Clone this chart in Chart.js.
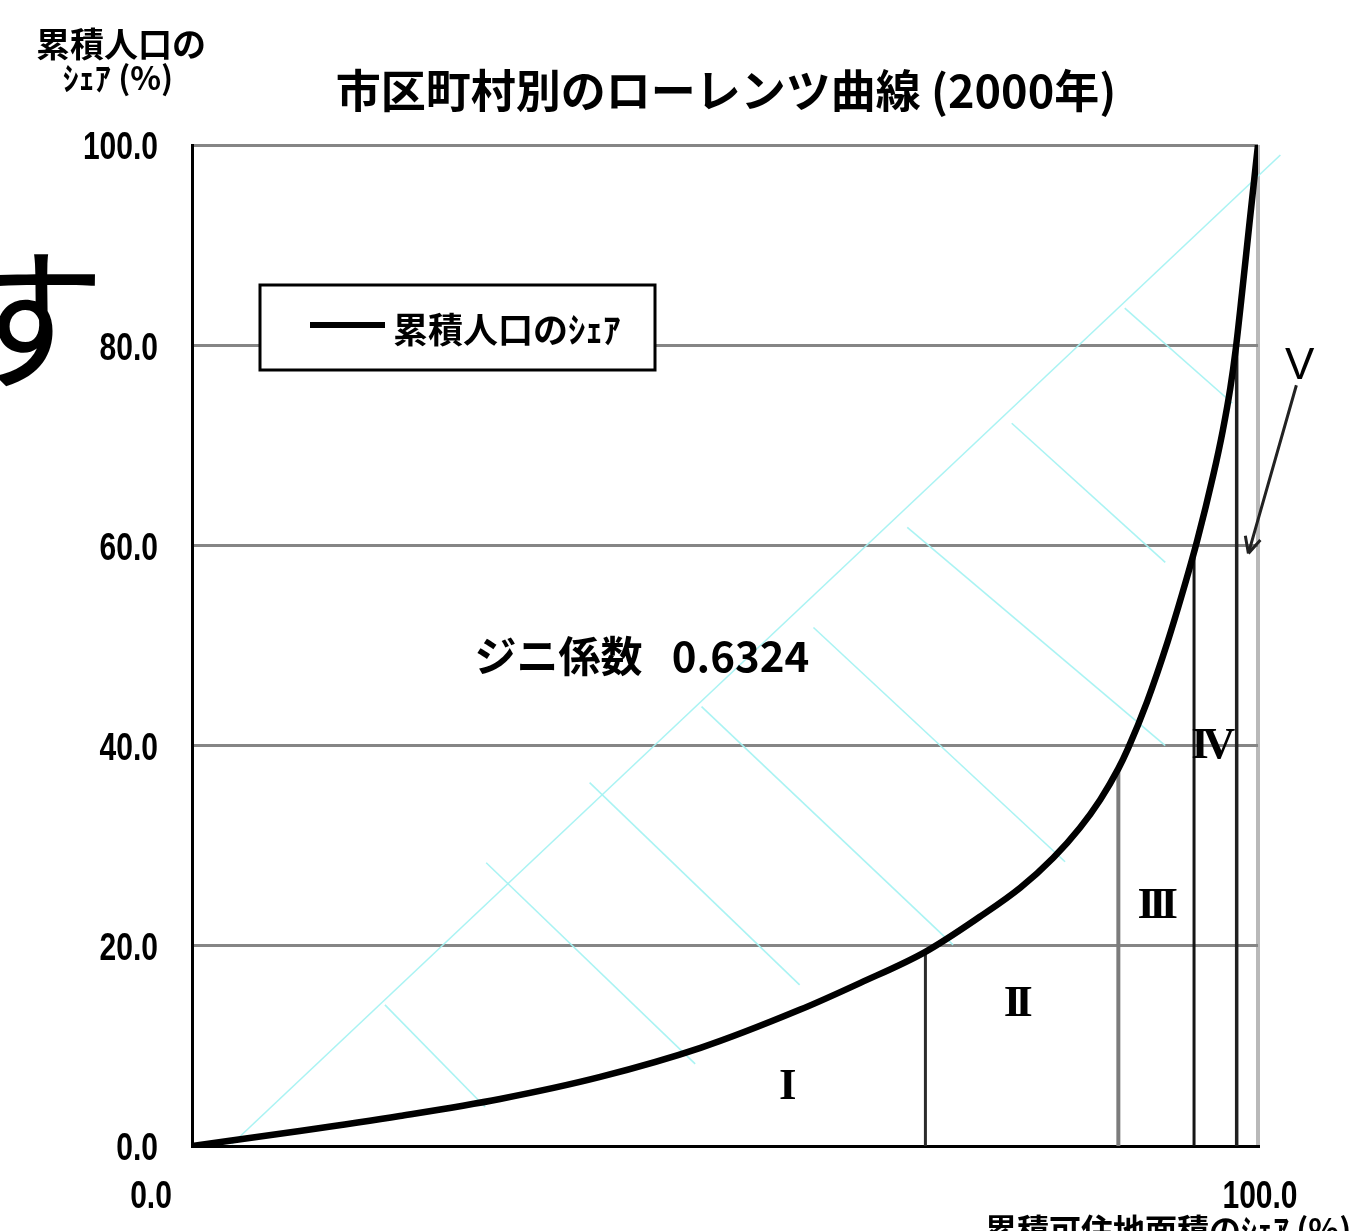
<!DOCTYPE html>
<html>
<head>
<meta charset="utf-8">
<script src="https://cdn.jsdelivr.net/npm/chart.js@4.4.1/dist/chart.umd.min.js"></script>
<style>
  html, body { margin: 0; padding: 0; background: #fff; overflow: hidden; }
  #wrap { position: relative; width: 1356px; height: 1231px; }
  #side { position: absolute; left: -49px; top: 232px; font: 400 155px/1 'Noto Sans CJK JP', sans-serif; color: #000; }
</style>
</head>
<body>
<div id="wrap">
  <canvas id="c" width="1356" height="1231"></canvas>
  <div id="side">す</div>
</div>
<script>
// Cumulative share of habitable area (%) and cumulative share of population (%)
const areaShare = [0, 10.1, 19.5, 28.9, 38.3, 47.7, 57.0, 62.7, 68.8, 73.9, 77.7, 80.8, 83.3, 85.2, 86.9, 87.8, 89.6, 91.5, 92.9, 94.3, 95.8, 96.7, 97.4, 97.9, 98.5, 99.2, 100];
const popShare  = [0, 1.5, 3.0, 4.7, 6.9, 9.8, 13.6, 16.3, 19.4, 22.9, 25.8, 28.8, 31.8, 34.6, 37.7, 39.7, 44.4, 50.3, 55.2, 60.5, 67.0, 71.5, 75.7, 79.5, 85.2, 92.2, 100];

// Class boundaries (I | II | III | IV | V) on the area axis and where they meet the curve
const boundaryArea = [68.8, 86.9, 94.0, 98.0];
const boundaryPop  = [19.4, 37.7, 59.4, 80.5];
const classNames   = ['I', 'II', 'III', 'IV', 'V'];

// Tick labels
const yTickValues = [0, 20, 40, 60, 80, 100];
const xTickValues = [0, 100];
const xTickLabels = ['0.0', '100.0'];

// Texts
const titleText  = '市区町村別のローレンツ曲線 (2000年)';
const seriesName = '累積人口のｼｪｱ';
const yTitle     = ['累積人口の', 'ｼｪｱ (%)'];
const xTitle     = '累積可住地面積のｼｪｱ (%)';
const giniLabel  = 'ジニ係数';
const giniValue  = 0.6324;

// Light cyan guide strokes (diagonal and its cross strokes)
const guideDiagonal = [[3.75, 0.2], [102.1, 99.0]];
const guideCross = [
  [[18.1, 14.1], [27.5, 3.9]],
  [[27.6, 28.3], [47.2, 8.2]],
  [[37.3, 36.3], [57.0, 16.1]],
  [[47.8, 43.9], [71.4, 20.1]],
  [[58.3, 51.8], [81.9, 28.4]],
  [[67.1, 61.8], [91.3, 40.0]],
  [[76.9, 72.2], [91.3, 58.3]],
  [[87.5, 83.7], [97.6, 74.2]]
];

// Styling
const boundaryColors = ['#2b2b2b', '#7c7c7c', '#151515', '#202020'];
const boundaryWidths = [3, 4, 3, 3.5];
const cyan = 'rgba(165, 242, 242, 0.95)';
const cjk = "'Noto Sans CJK JP', sans-serif";
const numFont = "700 38px 'Liberation Sans', Arial, sans-serif";
const numSquash = 0.79;

// Placement of class marks, gini text and the V arrow in data units
const classPos = [[55.6, 6.1], [77.5, 14.3], [90.6, 24.1], [95.8, 40.1], [103.9, 78.0]];
const giniPos = { label: [26.5, 48.9], value: [45.0, 48.9] };
const arrowFrom = [103.6, 76.0];
const arrowTo = [99.1, 59.2];

const datasets = [];
datasets.push({
  label: seriesName,
  data: areaShare.map((a, i) => ({ x: a, y: popShare[i] })),
  borderColor: '#000',
  borderWidth: 6.5,
  pointRadius: 0,
  showLine: true,
  cubicInterpolationMode: 'monotone'
});
boundaryArea.forEach((a, i) => {
  datasets.push({
    label: 'boundary' + i,
    data: [{ x: a, y: 0 }, { x: a, y: boundaryPop[i] }],
    borderColor: boundaryColors[i],
    borderWidth: boundaryWidths[i],
    pointRadius: 0,
    showLine: true
  });
});
datasets.push({
  label: 'guide',
  data: guideDiagonal.map(p => ({ x: p[0], y: p[1] })),
  borderColor: cyan,
  borderWidth: 1.6,
  pointRadius: 0,
  showLine: true,
  clip: false
});
guideCross.forEach((seg, i) => {
  datasets.push({
    label: 'cross' + i,
    data: seg.map(p => ({ x: p[0], y: p[1] })),
    borderColor: cyan,
    borderWidth: 1.6,
    pointRadius: 0,
    showLine: true,
    clip: false
  });
});

// Draws a number label squeezed horizontally (narrow figures)
function narrowText(ctx, text, x, y, align) {
  ctx.save();
  ctx.font = numFont;
  ctx.textBaseline = 'middle';
  ctx.textAlign = 'left';
  const w = ctx.measureText(text).width * numSquash;
  let left = x;
  if (align === 'right') left = x - w;
  else if (align === 'center') left = x - w / 2;
  ctx.translate(left, y);
  ctx.scale(numSquash, 1);
  ctx.fillText(text, 0, 0);
  ctx.restore();
}

const decorations = {
  id: 'decorations',
  afterDraw(chart) {
    const { ctx, chartArea: a, scales: { x, y } } = chart;
    const px = v => x.getPixelForValue(v);
    const py = v => y.getPixelForValue(v);
    ctx.save();
    ctx.fillStyle = '#000';

    // Title
    ctx.font = `700 45px ${cjk}`;
    ctx.textAlign = 'center';
    ctx.textBaseline = 'middle';
    ctx.fillText(titleText, (a.left + a.right) / 2 + 1, 91);

    // Axis titles
    ctx.font = `700 34px ${cjk}`;
    ctx.fillText(yTitle[0], 121, 44);
    ctx.font = `700 32px ${cjk}`;
    ctx.fillText(yTitle[1], 118, 78);
    ctx.font = `700 32px ${cjk}`;
    ctx.textAlign = 'left';
    ctx.textBaseline = 'top';
    ctx.fillText(xTitle, 985, 1214);

    // Tick labels
    yTickValues.forEach(v => narrowText(ctx, v.toFixed(1), a.left - 34, py(v) + 4, 'right'));
    xTickValues.forEach((v, i) => {
      const off = v === 0 ? -41 : 2;
      narrowText(ctx, xTickLabels[i], px(v) + off, 1198, 'center');
    });

    // Class marks
    ctx.textAlign = 'center';
    ctx.textBaseline = 'middle';
    classNames.forEach((t, i) => {
      if (t === 'V') {
        ctx.font = `400 44px 'Liberation Sans', sans-serif`;
        ctx.letterSpacing = '0px';
      } else {
        ctx.font = `700 45px 'Liberation Serif', serif`;
        ctx.letterSpacing = '-6px';
      }
      ctx.fillText(t, px(classPos[i][0]) + (t.length > 1 ? -3 : 0), py(classPos[i][1]) + 2);
    });
    ctx.letterSpacing = '0px';

    // Gini coefficient
    ctx.textAlign = 'left';
    ctx.font = `700 42px ${cjk}`;
    ctx.fillText(giniLabel, px(giniPos.label[0]), py(giniPos.label[1]));
    ctx.fillText(giniValue.toFixed(4), px(giniPos.value[0]), py(giniPos.value[1]));

    // Arrow pointing to class V
    const x0 = px(arrowFrom[0]), y0 = py(arrowFrom[1]);
    const x1 = px(arrowTo[0]), y1 = py(arrowTo[1]);
    ctx.strokeStyle = '#222';
    ctx.lineWidth = 3;
    ctx.beginPath();
    ctx.moveTo(x0, y0);
    ctx.lineTo(x1, y1);
    const ang = Math.atan2(y1 - y0, x1 - x0);
    const h = 18;
    ctx.moveTo(x1, y1);
    ctx.lineTo(x1 - h * Math.cos(ang - 0.45), y1 - h * Math.sin(ang - 0.45));
    ctx.moveTo(x1, y1);
    ctx.lineTo(x1 - h * Math.cos(ang + 0.45), y1 - h * Math.sin(ang + 0.45));
    ctx.stroke();

    // Legend box
    const lx = a.left + 68, ly = a.top + 140, lw = 395, lh = 85;
    ctx.fillStyle = '#fff';
    ctx.fillRect(lx, ly, lw, lh);
    ctx.strokeStyle = '#000';
    ctx.lineWidth = 3;
    ctx.strokeRect(lx, ly, lw, lh);
    const ds = chart.data.datasets[0];
    ctx.strokeStyle = ds.borderColor;
    ctx.lineWidth = 6;
    ctx.beginPath();
    ctx.moveTo(lx + 50, ly + 40);
    ctx.lineTo(lx + 125, ly + 40);
    ctx.stroke();
    ctx.fillStyle = '#000';
    ctx.font = `700 35px ${cjk}`;
    ctx.textAlign = 'left';
    ctx.textBaseline = 'middle';
    ctx.fillText(ds.label, lx + 133, ly + 45);

    ctx.restore();
  }
};

new Chart(document.getElementById('c'), {
  type: 'scatter',
  data: { datasets },
  plugins: [decorations],
  options: {
    responsive: false,
    devicePixelRatio: 1,
    animation: false,
    layout: { padding: { left: 0, right: 98, top: 145, bottom: 85 } },
    plugins: { legend: { display: false }, title: { display: false }, tooltip: { enabled: false } },
    scales: {
      x: {
        type: 'linear', min: 0, max: 100,
        ticks: { display: false, stepSize: 20 },
        grid: {
          drawTicks: false,
          lineWidth: 4,
          color: c => (c.tick && c.tick.value === 100) ? '#b9b9b9' : 'rgba(0,0,0,0)'
        },
        border: { color: '#000', width: 3 },
        afterFit: s => { s.height = 0; }
      },
      y: {
        type: 'linear', min: 0, max: 100,
        afterBuildTicks: s => { s.ticks = yTickValues.map(v => ({ value: v })); },
        ticks: { display: false },
        grid: {
          drawTicks: false,
          lineWidth: 3,
          color: c => (c.tick && c.tick.value === 0) ? 'rgba(0,0,0,0)' : '#858585'
        },
        border: { color: '#000', width: 3 },
        afterFit: s => { s.width = 192; }
      }
    }
  }
});
</script>
</body>
</html>
